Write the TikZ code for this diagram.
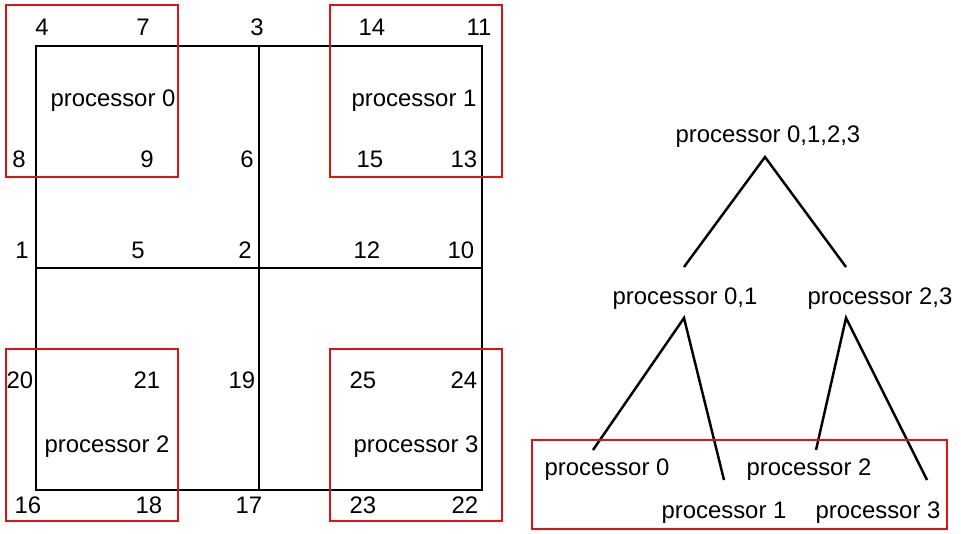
\documentclass[tikz,border=0pt]{standalone}
\usepackage{fontspec}
\setmainfont{Liberation Sans}
\usetikzlibrary{positioning}
\definecolor{boxred}{RGB}{220,20,20}

\begin{document}
\begin{tikzpicture}[x=0.02cm, y=-0.02cm,
    mesh/.style={draw=black, line width=1.1pt},
    part/.style={draw=boxred, line width=1.2pt},
    branch/.style={draw=black, line width=1.4pt},
    num/.style={inner sep=0pt, font=\fontsize{13.6}{16}\selectfont},
    proc/.style={inner sep=0pt, anchor=base, font=\fontsize{13.6}{16}\selectfont}]
    \useasboundingbox (0,0) rectangle (961,534);

    % Mesh split in four subdomains
    \draw[mesh] (36,46) rectangle (482,490);
    \draw[mesh] (259,46) -- (259,490);
    \draw[mesh] (36,268) -- (482,268);

    % Parts owned by each processor
    \draw[part] (6,5) rectangle (178,177);
    \draw[part] (330,5) rectangle (502,177);
    \draw[part] (6,349) rectangle (178,521);
    \draw[part] (330,349) rectangle (502,521);

    \node[proc] (p0) at (113,106) {processor 0};
    \node[proc] (p1) at (414,106) {processor 1};
    \node[proc] (p2) at (107,452) {processor 2};
    \node[proc] (p3) at (416,452) {processor 3};

    % Vertex numbers
    \node[num] (v4)  at (42,27)  {4};
    \node[num] (v7)  at (143,27) {7};
    \node[num] (v3)  at (257,27) {3};
    \node[num] (v14) at (372,27) {14};
    \node[num] (v11) at (479,27) {11};

    \node[num] (v8)  at (19,159)  {8};
    \node[num] (v9)  at (147,159) {9};
    \node[num] (v6)  at (247,159) {6};
    \node[num] (v15) at (370,159) {15};
    \node[num] (v13) at (464,159) {13};

    \node[num] (v1)  at (22,250)  {1};
    \node[num] (v5)  at (138,250) {5};
    \node[num] (v2)  at (245,250) {2};
    \node[num] (v12) at (367,250) {12};
    \node[num] (v10) at (461,250) {10};

    \node[num] (v20) at (20,380)  {20};
    \node[num] (v21) at (147,380) {21};
    \node[num] (v19) at (242,380) {19};
    \node[num] (v25) at (363,380) {25};
    \node[num] (v24) at (464,380) {24};

    \node[num] (v16) at (28,505)  {16};
    \node[num] (v18) at (149,505) {18};
    \node[num] (v17) at (249,505) {17};
    \node[num] (v23) at (363,505) {23};
    \node[num] (v22) at (465,505) {22};

    % Merge tree
    \node[proc] (t0123) at (768,142) {processor 0,1,2,3};
    \node[proc] (t01) at (685,304) {processor 0,1};
    \node[proc] (t23) at (880,304) {processor 2,3};
    \node[proc] (t0) at (607,475) {processor 0};
    \node[proc] (t2) at (809,475) {processor 2};
    \node[proc] (t1) at (724,518) {processor 1};
    \node[proc] (t3) at (878,518) {processor 3};

    \coordinate (top)   at (765,157);
    \coordinate (in01)  at (684,267);
    \coordinate (in23)  at (846,267);
    \coordinate (out01) at (684,318);
    \coordinate (out23) at (846,318);
    \coordinate (leaf0) at (593,450);
    \coordinate (leaf1) at (724,480);
    \coordinate (leaf2) at (816,450);
    \coordinate (leaf3) at (927,480);

    \draw[branch] (in01) -- (top) -- (in23);
    \draw[branch] (leaf0) -- (out01) -- (leaf1);
    \draw[branch] (leaf2) -- (out23) -- (leaf3);

    % Leaves of the tree
    \draw[part] (532,440) rectangle (947,529);
\end{tikzpicture}
\end{document}
